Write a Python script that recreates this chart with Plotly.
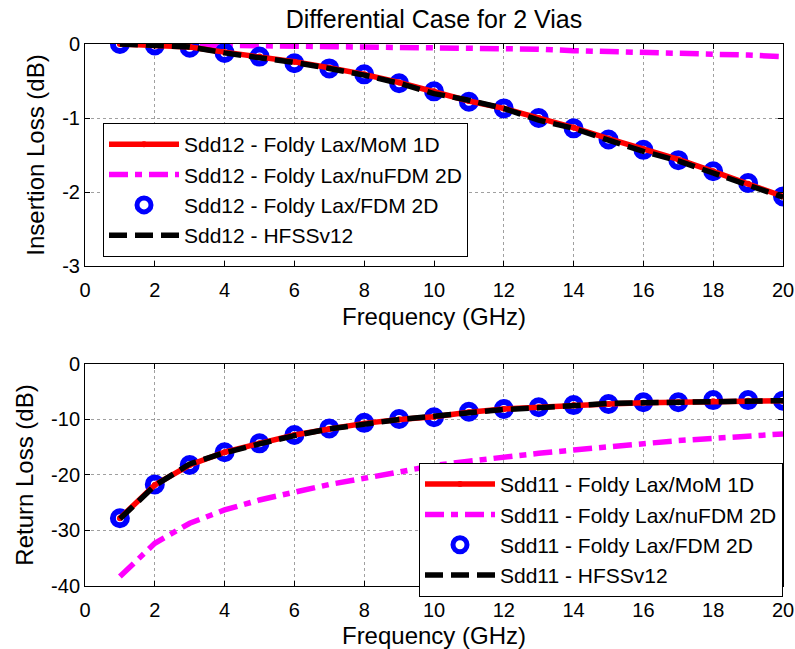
import plotly.graph_objects as go
from plotly.subplots import make_subplots

freq = list(range(1, 21))

il_mom = [0, -0.02, -0.04, -0.11, -0.17, -0.24, -0.32, -0.41, -0.52, -0.64,
          -0.77, -0.87, -1.00, -1.13, -1.28, -1.42, -1.56, -1.72, -1.89, -2.06]
il_nufdm = [0, -0.005, -0.01, -0.015, -0.02, -0.025, -0.03, -0.035, -0.04, -0.04,
            -0.05, -0.06, -0.07, -0.09, -0.10, -0.11, -0.12, -0.13, -0.15, -0.17]
il_fdm = [0, -0.02, -0.05, -0.12, -0.17, -0.26, -0.33, -0.41, -0.53, -0.64,
          -0.78, -0.87, -1.00, -1.14, -1.29, -1.43, -1.57, -1.72, -1.88, -2.06]
il_hfss = [0, -0.02, -0.04, -0.12, -0.18, -0.25, -0.33, -0.42, -0.53, -0.67,
           -0.76, -0.87, -1.03, -1.14, -1.30, -1.45, -1.58, -1.74, -1.90, -2.07]

rl_mom = [-27.8, -21.8, -18.2, -15.9, -14.3, -12.8, -11.7, -10.7, -10.0, -9.5,
          -8.7, -8.1, -7.8, -7.4, -7.2, -7.0, -6.9, -6.7, -6.6, -6.6]
rl_nufdm = [-38.3, -32.3, -28.7, -26.3, -24.5, -23.0, -21.7, -20.6, -19.5, -18.3,
            -17.5, -16.7, -16.1, -15.5, -14.9, -14.3, -13.8, -13.4, -13.0, -12.6]
rl_fdm = [-27.8, -21.7, -18.2, -15.9, -14.3, -12.8, -11.6, -10.6, -9.9, -9.6,
          -8.6, -8.1, -7.8, -7.4, -7.2, -6.9, -6.9, -6.5, -6.5, -6.6]
rl_hfss = [-27.9, -21.9, -18.0, -16.0, -14.4, -12.9, -11.7, -10.8, -10.0, -9.4,
           -8.7, -8.2, -7.9, -7.5, -7.1, -7.0, -6.9, -6.6, -6.6, -6.6]

x_ticks = [0, 2, 4, 6, 8, 10, 12, 14, 16, 18, 20]
x_labels = [str(v) for v in x_ticks]
il_ticks = [0, -1, -2, -3]
il_labels = ["0", "-1", "-2", "-3"]
rl_ticks = [0, -10, -20, -30, -40]
rl_labels = ["0", "-10", "-20", "-30", "-40"]

title = "Differential Case for 2 Vias"
xtitle = "Frequency (GHz)"
il_title = "Insertion Loss (dB)"
rl_title = "Return Loss (dB)"
names_top = ["Sdd12 - Foldy Lax/MoM 1D", "Sdd12 - Foldy Lax/nuFDM 2D",
             "Sdd12 - Foldy Lax/FDM 2D", "Sdd12 - HFSSv12"]
names_bot = ["Sdd11 - Foldy Lax/MoM 1D", "Sdd11 - Foldy Lax/nuFDM 2D",
             "Sdd11 - Foldy Lax/FDM 2D", "Sdd11 - HFSSv12"]

FONT = "Liberation Sans, Arial, sans-serif"

fig = make_subplots(rows=2, cols=1, vertical_spacing=0.0)


def add_set(row, mom, nufdm, fdm, hfss, names, legend):
    # drawing order: magenta, blue circles, red, black
    fig.add_trace(go.Scatter(x=freq, y=nufdm, mode="lines", name=names[1],
                             line=dict(color="#ff00ff", width=5.5, dash="19px,7px,7px,7px"),
                             legend=legend, legendrank=2), row=row, col=1)
    fig.add_trace(go.Scatter(x=freq, y=fdm, mode="markers", name=names[2],
                             marker=dict(symbol="circle-open", size=14, color="#0000ff",
                                         line=dict(width=6, color="#0000ff")),
                             legend=legend, legendrank=3), row=row, col=1)
    fig.add_trace(go.Scatter(x=freq, y=mom, mode="lines+markers", name=names[0],
                             line=dict(color="#ff0000", width=5.5),
                             marker=dict(symbol="circle", size=6, color="#ff0000"),
                             legend=legend, legendrank=1), row=row, col=1)
    fig.add_trace(go.Scatter(x=freq, y=hfss, mode="lines", name=names[3],
                             line=dict(color="#000000", width=5.5, dash="18px,8px"),
                             legend=legend, legendrank=4), row=row, col=1)


add_set(1, il_mom, il_nufdm, il_fdm, il_hfss, names_top, "legend")
add_set(2, rl_mom, rl_nufdm, rl_fdm, rl_hfss, names_bot, "legend2")

axis_common = dict(showline=True, linecolor="black", linewidth=1, mirror="allticks",
                   ticks="inside", ticklen=5, tickcolor="black",
                   showgrid=True, gridcolor="#a0a0a0", griddash="dot", gridwidth=1,
                   zeroline=False, automargin=False,
                   tickfont=dict(size=20, color="black", family=FONT),
                   title_font=dict(size=24, color="black", family=FONT))

fig.update_xaxes(range=[0, 20], tickvals=x_ticks, ticktext=x_labels,
                 title_text=xtitle, title_standoff=8, ticklabelstandoff=6, **axis_common)
fig.update_yaxes(**axis_common)
fig.update_yaxes(range=[-3, 0], tickvals=il_ticks, ticktext=il_labels,
                 title_text=il_title, title_standoff=10, row=1, col=1)
fig.update_yaxes(range=[-40, 0], tickvals=rl_ticks, ticktext=rl_labels,
                 title_text=rl_title, title_standoff=10, row=2, col=1)

fig.update_layout(
    xaxis=dict(domain=[0, 1]),
    yaxis=dict(domain=[0.5904, 1.0]),
    yaxis2=dict(domain=[0.0, 0.4096]),
)

legend_common = dict(bgcolor="white", bordercolor="black", borderwidth=1,
                     font=dict(size=21, color="black", family=FONT),
                     itemwidth=70, yanchor="top", traceorder="normal")

fig.update_layout(
    width=795, height=649,
    margin=dict(l=85, r=12, t=44, b=63),
    paper_bgcolor="white", plot_bgcolor="white",
    font=dict(family=FONT, color="black"),
    title=dict(text=title, x=0.5, xref="paper", y=0.97, yanchor="middle",
               font=dict(size=25, color="black", family=FONT)),
    legend=dict(x=0.0258, y=0.854, xanchor="left", **legend_common),
    legend2=dict(x=1.0, y=0.227, xanchor="right", **legend_common),
    showlegend=True,
)

fig.write_html("out.html")
